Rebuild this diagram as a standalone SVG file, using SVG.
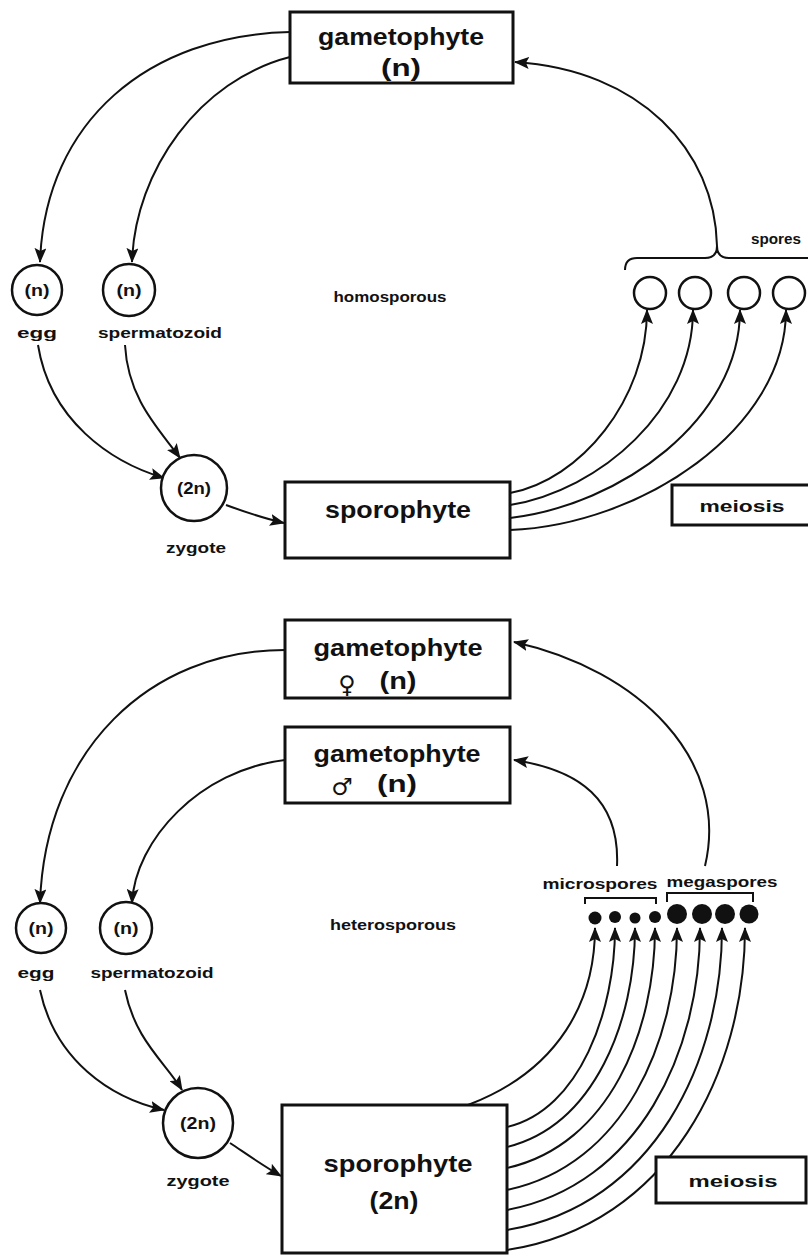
<svg xmlns="http://www.w3.org/2000/svg" width="808" height="1257" viewBox="0 0 808 1257">
<defs>
<marker id="ah" markerUnits="userSpaceOnUse" markerWidth="16" markerHeight="12" refX="14" refY="6" orient="auto">
<path d="M0,0 L15,6 L0,12 L3,6 Z" fill="#111"/>
</marker>
<style>
.box{fill:#fff;stroke:#111;stroke-width:3}
.cir{fill:#fff;stroke:#111;stroke-width:2.5}
.ln{fill:none;stroke:#111;stroke-width:2}
.arr{fill:none;stroke:#111;stroke-width:2;marker-end:url(#ah)}
.big{font-family:"Liberation Sans",Arial,sans-serif;font-weight:bold;font-size:24px;fill:#111;text-anchor:middle}
.mid{font-family:"Liberation Sans",Arial,sans-serif;font-weight:bold;font-size:16px;fill:#111;text-anchor:middle}
.sm{font-family:"Liberation Sans",Arial,sans-serif;font-weight:bold;font-size:15px;fill:#111;text-anchor:middle}
.sym{font-family:"DejaVu Sans",sans-serif;font-size:24px;fill:#111;text-anchor:middle}
.dot{fill:#111}
</style>
</defs>
<rect width="808" height="1257" fill="#fff"/>

<g id="connectors">
<!-- top section -->
<path class="arr" d="M290,32 C150,35 45,120 40,262"/>
<path class="arr" d="M290,57 C200,80 135,170 132,262"/>
<path class="arr" d="M38,345 C50,420 110,462 164,478"/>
<path class="arr" d="M125,345 C128,400 160,430 180,458"/>
<path class="arr" d="M226,505 C245,512 262,518 284,523"/>
<path class="arr" d="M717,246 C715,150 640,70 515,62"/>
<path class="arr" d="M510,493 C580,480 647,400 647,310"/>
<path class="arr" d="M510,505 C600,490 693,410 693,310"/>
<path class="arr" d="M510,518 C620,505 740,420 740,310"/>
<path class="arr" d="M510,530 C640,525 786,430 786,310"/>
<path class="ln" d="M625,270 Q625,258 637,258 L705,258 Q717,258 717,246 Q717,258 729,258 L808,258"/>
<!-- bottom section -->
<path class="arr" d="M285,650 C150,650 45,750 40,903"/>
<path class="arr" d="M285,760 C200,770 135,840 132,903"/>
<path class="arr" d="M40,990 C55,1060 110,1098 164,1110"/>
<path class="arr" d="M125,990 C135,1040 165,1062 182,1090"/>
<path class="arr" d="M230,1143 C248,1155 262,1165 281,1176"/>
<path class="arr" d="M705,866 C730,760 640,670 514,642"/>
<path class="arr" d="M617,866 C620,800 580,770 514,760"/>
<path class="ln" d="M585,904 L585,898 L656,898 L656,904"/>
<path class="ln" d="M667,902 L667,893 L753,893 L753,902"/>
<path class="arr" d="M468,1105 C560,1070 595,1000 595,928"/>
<path class="arr" d="M507,1127 C580,1110 615,1010 615,928"/>
<path class="arr" d="M507,1147 C595,1125 635,1020 635,928"/>
<path class="arr" d="M507,1168 C610,1145 655,1030 655,928"/>
<path class="arr" d="M507,1190 C625,1165 677,1040 677,928"/>
<path class="arr" d="M507,1210 C640,1185 700,1050 700,928"/>
<path class="arr" d="M507,1230 C655,1205 722,1060 722,928"/>
<path class="arr" d="M507,1250 C670,1225 745,1070 745,928"/>
</g>

<g id="gametophyte-top">
<rect class="box" x="290" y="12" width="223" height="71"/>
<text class="big" x="401" y="45" textLength="166" lengthAdjust="spacingAndGlyphs">gametophyte</text>
<text class="big" x="401" y="76" textLength="40" lengthAdjust="spacingAndGlyphs">(n)</text>
</g>
<g id="egg-top">
<circle class="cir" cx="37" cy="290" r="25"/>
<text class="mid" x="37" y="296" textLength="25" lengthAdjust="spacingAndGlyphs">(n)</text>
<text class="sm" x="37" y="338" textLength="40" lengthAdjust="spacingAndGlyphs">egg</text>
</g>
<g id="sperm-top">
<circle class="cir" cx="129" cy="290" r="26"/>
<text class="mid" x="129" y="296" textLength="25" lengthAdjust="spacingAndGlyphs">(n)</text>
<text class="sm" x="160" y="338" textLength="124" lengthAdjust="spacingAndGlyphs">spermatozoid</text>
</g>
<g id="homosporous"><text class="sm" x="390" y="302" textLength="113" lengthAdjust="spacingAndGlyphs">homosporous</text></g>
<g id="spores">
<text class="sm" x="776" y="244" textLength="50" lengthAdjust="spacingAndGlyphs">spores</text>
<circle class="cir" cx="650" cy="293" r="16"/>
<circle class="cir" cx="695" cy="293" r="16"/>
<circle class="cir" cx="744" cy="293" r="16"/>
<circle class="cir" cx="789" cy="293" r="16"/>
</g>
<g id="zygote-top">
<circle class="cir" cx="194" cy="488" r="33"/>
<text class="mid" x="194" y="494" textLength="34" lengthAdjust="spacingAndGlyphs">(2n)</text>
<text class="sm" x="196" y="553" textLength="60" lengthAdjust="spacingAndGlyphs">zygote</text>
</g>
<g id="sporophyte-top">
<rect class="box" x="285" y="482" width="225" height="76"/>
<text class="big" x="398" y="518" textLength="146" lengthAdjust="spacingAndGlyphs">sporophyte</text>
</g>
<g id="meiosis-top">
<rect class="box" x="672" y="485" width="140" height="40"/>
<text class="mid" x="742" y="512" textLength="85" lengthAdjust="spacingAndGlyphs">meiosis</text>
</g>

<g id="gametophyte-female">
<rect class="box" x="285" y="620" width="225" height="78"/>
<text class="big" x="398" y="656" textLength="169" lengthAdjust="spacingAndGlyphs">gametophyte</text>
<text class="sym" x="347" y="693">♀</text>
<text class="big" x="398" y="689" textLength="37" lengthAdjust="spacingAndGlyphs">(n)</text>
</g>
<g id="gametophyte-male">
<rect class="box" x="285" y="727" width="225" height="76"/>
<text class="big" x="397" y="762" textLength="167" lengthAdjust="spacingAndGlyphs">gametophyte</text>
<text class="sym" x="342" y="795">♂</text>
<text class="big" x="397" y="792" textLength="40" lengthAdjust="spacingAndGlyphs">(n)</text>
</g>
<g id="egg-bottom">
<circle class="cir" cx="41" cy="928" r="25"/>
<text class="mid" x="41" y="934" textLength="25" lengthAdjust="spacingAndGlyphs">(n)</text>
<text class="sm" x="36" y="978" textLength="37" lengthAdjust="spacingAndGlyphs">egg</text>
</g>
<g id="sperm-bottom">
<circle class="cir" cx="126" cy="928" r="26"/>
<text class="mid" x="126" y="934" textLength="25" lengthAdjust="spacingAndGlyphs">(n)</text>
<text class="sm" x="152" y="978" textLength="123" lengthAdjust="spacingAndGlyphs">spermatozoid</text>
</g>
<g id="heterosporous"><text class="sm" x="393" y="930" textLength="126" lengthAdjust="spacingAndGlyphs">heterosporous</text></g>
<g id="spore-labels">
<text class="sm" x="600" y="889" textLength="115" lengthAdjust="spacingAndGlyphs">microspores</text>
<text class="sm" x="722" y="887" textLength="111" lengthAdjust="spacingAndGlyphs">megaspores</text>
</g>
<g id="microspores">
<circle class="dot" cx="595" cy="918" r="6.5"/>
<circle class="dot" cx="615" cy="917" r="6"/>
<circle class="dot" cx="635" cy="918" r="5.5"/>
<circle class="dot" cx="655" cy="917" r="6"/>
</g>
<g id="megaspores">
<circle class="dot" cx="677" cy="914" r="10"/>
<circle class="dot" cx="702" cy="914" r="10"/>
<circle class="dot" cx="725" cy="914" r="10"/>
<circle class="dot" cx="749" cy="914" r="9.5"/>
</g>
<g id="zygote-bottom">
<circle class="cir" cx="198" cy="1123" r="35"/>
<text class="mid" x="198" y="1129" textLength="36" lengthAdjust="spacingAndGlyphs">(2n)</text>
<text class="sm" x="198" y="1186" textLength="63" lengthAdjust="spacingAndGlyphs">zygote</text>
</g>
<g id="sporophyte-bottom">
<rect class="box" x="282" y="1105" width="225" height="148"/>
<text class="big" x="398" y="1172" textLength="149" lengthAdjust="spacingAndGlyphs">sporophyte</text>
<text class="big" x="394" y="1209" textLength="49" lengthAdjust="spacingAndGlyphs">(2n)</text>
</g>
<g id="meiosis-bottom">
<rect class="box" x="656" y="1157" width="150" height="46"/>
<text class="mid" x="733" y="1187" textLength="89" lengthAdjust="spacingAndGlyphs">meiosis</text>
</g>
</svg>
